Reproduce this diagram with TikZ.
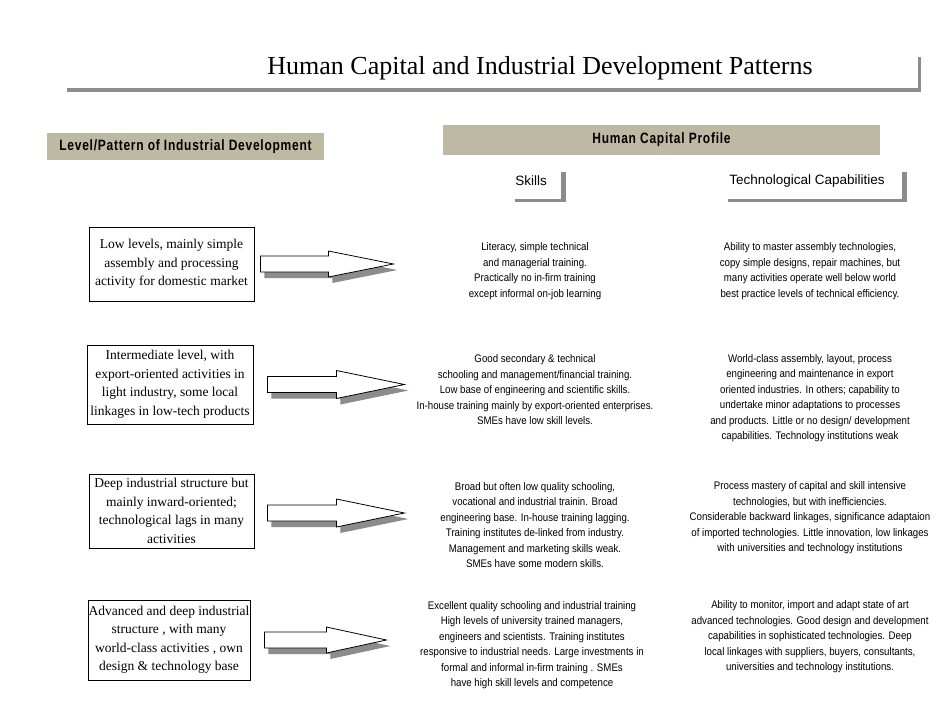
\documentclass[tikz,border=0pt]{standalone}
\usepackage{fontspec}
\setmainfont{Liberation Serif}
\newfontfamily\bodyfont{Liberation Sans}[FakeStretch=0.88]
\newfontfamily\plainsans{Liberation Sans}
\newfontfamily\hdrfont{Liberation Sans}[FakeStretch=0.8,LetterSpace=5]
\usetikzlibrary{calc}
\definecolor{shade}{HTML}{8C8C8C}
\definecolor{hdrfill}{HTML}{BDB9A3}
\newcommand\blockarrow[4]{%
  \path[fill=shade] ([shift={(4,6)}]#1) +(0,-8) -- +({#2-#3},-8) -- +({#2-#3},-#4) -- +(#2,0) -- +({#2-#3},#4) -- +({#2-#3},8) -- +(0,8) -- cycle;
  \path[draw=black,fill=white,line width=0.8pt,line join=miter] (#1) +(0,-8) -- +({#2-#3},-8) -- +({#2-#3},-#4) -- +(#2,0) -- +({#2-#3},#4) -- +({#2-#3},8) -- +(0,8) -- cycle;
}
\begin{document}
\begin{tikzpicture}[x=1pt,y=-1pt,
  levelbox/.style={draw=black, line width=0.8pt, align=center, inner sep=0pt, font=\fontsize{13.5}{18.5}\selectfont},
  profiletext/.style={align=center, inner sep=0pt, font=\bodyfont\fontsize{11}{15.5}\selectfont},
  hdrbox/.style={fill=hdrfill, inner sep=0pt, font=\hdrfont\bfseries\fontsize{15}{17}\selectfont},
  colhead/.style={inner sep=0pt, font=\plainsans\fontsize{13.5}{15}\selectfont},
  hbar/.style={draw=shade, line width=3pt},
  vbar/.style={draw=shade, line width=5pt},
]
\useasboundingbox[fill=white] (0,0) rectangle (950,702);

% title
\node[font=\fontsize{26}{30}\selectfont] (title) at (540,68) {Human Capital and Industrial Development Patterns};
\draw[hbar, line width=3.5pt] (67,90) -- (921,90);
\draw[hbar, line width=3.5pt] (919.5,57) -- (919.5,91.75);

% headers
\node[hdrbox, minimum width=277, minimum height=27] (lvlhdr) at (185.5,146.5) {Level/Pattern of Industrial Development};
\node[hdrbox, minimum width=437, minimum height=30] (hcp) at (661.5,140) {Human Capital Profile};

\node[colhead] (skills) at (531,181) {Skills};
\draw[hbar] (515,200.5) -- (566,200.5);
\draw[vbar] (563.5,172) -- (563.5,202);
\node[colhead] (tech) at (807,181) {Technological Capabilities};
\draw[hbar] (728,200.5) -- (907,200.5);
\draw[vbar] (904.5,172) -- (904.5,202);

% level boxes
\node[levelbox, minimum width=165, minimum height=74] (b1) at (171.5,264) {Low levels, mainly simple\\assembly and processing\\activity for domestic market};
\node[levelbox, minimum width=166, minimum height=79] (b2) at (170,384.5) {Intermediate level, with\\export-oriented activities in\\light industry, some local\\linkages in low-tech products};
\node[levelbox, minimum width=165, minimum height=74] (b3) at (171.5,511) {Deep industrial structure but\\mainly inward-oriented;\\technological lags in many\\activities};
\node[levelbox, minimum width=162, minimum height=80] (b4) at (169,640) {Advanced and deep industrial\\structure , with many\\world-class activities , own\\design \& technology base};

% arrows
\coordinate (a1) at ($(b1.east)+(6,0)$);
\coordinate (a2) at ($(b2.east)+(14,0)$);
\coordinate (a3) at ($(b3.east)+(13,2)$);
\coordinate (a4) at ($(b4.east)+(14,0)$);
\blockarrow{a1}{133}{65}{13}
\blockarrow{a2}{137}{68}{14}
\blockarrow{a3}{137}{68}{14}
\blockarrow{a4}{122}{60}{13}

% skills
\node[profiletext] (s1) at (535,271) {Literacy, simple technical\\and managerial training.\\Practically no in-firm training\\except informal on-job learning};
\node[profiletext] (s2) at (535,390) {Good secondary \& technical\\schooling and management/financial training.\\Low base of engineering and scientific skills.\\In-house training mainly by export-oriented enterprises.\\SMEs have low skill levels.};
\node[profiletext] (s3) at (535,525) {Broad but often low quality schooling,\\vocational and industrial trainin. Broad\\engineering base. In-house training lagging.\\Training institutes de-linked from industry.\\Management and marketing skills weak.\\SMEs have some modern skills.};
\node[profiletext] (s4) at (532,645) {Excellent quality schooling and industrial training\\High levels of university trained managers,\\engineers and scientists. Training institutes\\responsive to industrial needs. Large investments in\\formal and informal in-firm training . SMEs\\have high skill levels and competence};

% technological capabilities
\node[profiletext] (t1) at (810,271) {Ability to master assembly technologies,\\copy simple designs, repair machines, but\\many activities operate well below world\\best practice levels of technical efficiency.};
\node[profiletext] (t2) at (810,398) {World-class assembly, layout, process\\engineering and maintenance in export\\oriented industries. In others; capability to\\undertake minor adaptations to processes\\and products. Little or no design/ development\\capabilities. Technology institutions weak};
\node[profiletext] (t3) at (810,518) {Process mastery of capital and skill intensive\\technologies, but with inefficiencies.\\Considerable backward linkages, significance adaptaion\\of imported technologies. Little innovation, low linkages\\with universities and technology institutions};
\node[profiletext] (t4) at (810,637) {Ability to monitor, import and adapt state of art\\advanced technologies. Good design and development\\capabilities in sophisticated technologies. Deep\\local linkages with suppliers, buyers, consultants,\\universities and technology institutions.};
\end{tikzpicture}
\end{document}
